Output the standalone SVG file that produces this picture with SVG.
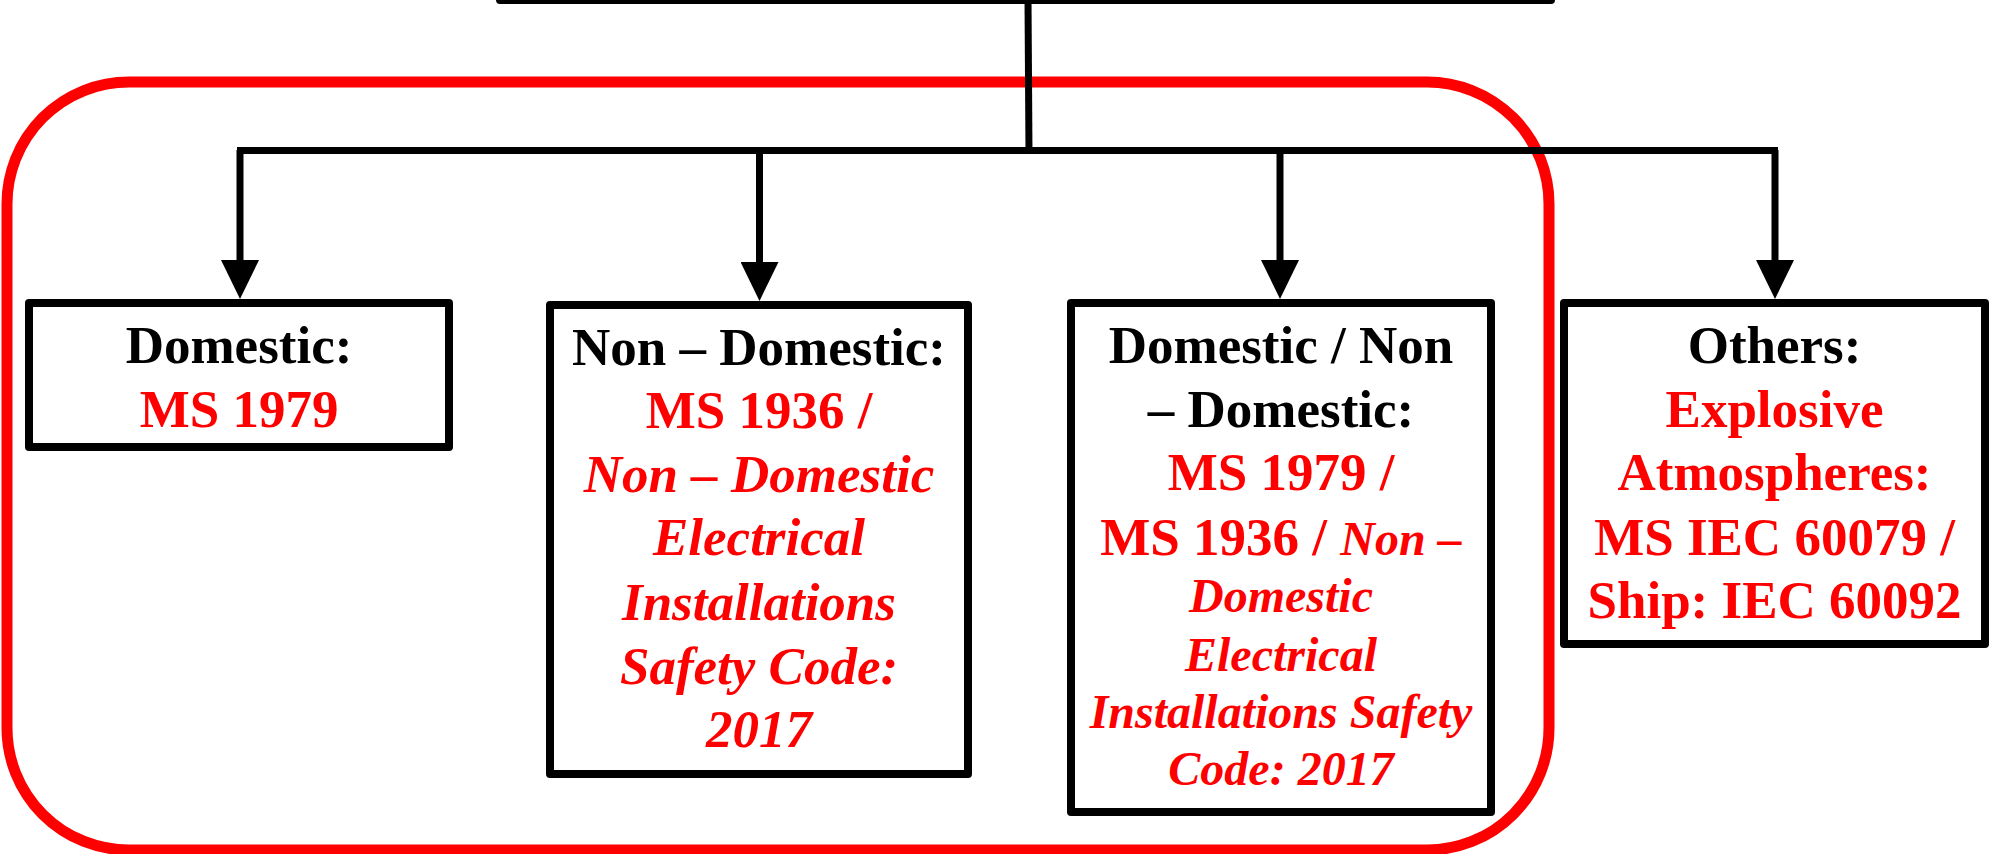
<svg xmlns="http://www.w3.org/2000/svg" width="1997" height="854" viewBox="0 0 1997 854">
<style>
.box{fill:#fff;stroke:#000;stroke-width:8;stroke-linejoin:round}
.ln{fill:none;stroke:#000;stroke-width:7}
.arr{fill:none;stroke:#000;stroke-width:7;marker-end:url(#ah)}
.t{font-family:"Liberation Serif","Times New Roman",serif;font-weight:bold;font-size:53px;text-anchor:middle}
.k{fill:#000}
.r{fill:#f00}
.i{font-style:italic}
.s{font-size:48px}
</style>
<defs>
<marker id="ah" viewBox="0 0 39 38" refX="0" refY="19" markerWidth="39" markerHeight="38" markerUnits="userSpaceOnUse" orient="auto">
<path d="M0,0 L39,19 L0,38 Z" fill="#000"/>
</marker>
</defs>
<rect id="container" x="7" y="82" width="1542" height="768" rx="122" ry="122" fill="none" stroke="#f00" stroke-width="11"/>
<g id="top">
<rect class="box" x="500" y="-100" width="1051" height="100"/>
</g>
<g id="connectors">
<line class="ln" x1="1028" y1="0" x2="1029" y2="154"/>
<line class="ln" x1="237" y1="150.5" x2="1778" y2="150.5"/>
<path class="arr" d="M240,150 V260"/>
<path class="arr" d="M759.5,150 V262"/>
<path class="arr" d="M1280,150 V260"/>
<path class="arr" d="M1775,150 V260"/>
</g>
<g id="domestic">
<rect class="box" x="29" y="303" width="420" height="144"/>
<text class="t k" x="239" y="363">Domestic:</text>
<text class="t r" x="239" y="427">MS 1979</text>
</g>
<g id="non-domestic">
<rect class="box" x="550" y="305" width="418" height="469"/>
<text class="t k" x="759" y="365">Non – Domestic:</text>
<text class="t r" x="759" y="428">MS 1936 /</text>
<text class="t r i" x="759" y="492">Non – Domestic</text>
<text class="t r i" x="759" y="555">Electrical</text>
<text class="t r i" x="759" y="620">Installations</text>
<text class="t r i" x="759" y="684">Safety Code:</text>
<text class="t r i" x="759" y="747">2017</text>
</g>
<g id="domestic-non-domestic">
<rect class="box" x="1071" y="303" width="420" height="509"/>
<text class="t k" x="1281" y="363">Domestic / Non</text>
<text class="t k" x="1281" y="427">– Domestic:</text>
<text class="t r" x="1281" y="490">MS 1979 /</text>
<text class="t r" x="1281" y="555">MS 1936 / <tspan class="i s">Non –</tspan></text>
<text class="t r i s" x="1281" y="612">Domestic</text>
<text class="t r i s" x="1281" y="671">Electrical</text>
<text class="t r i s" x="1281" y="728">Installations Safety</text>
<text class="t r i s" x="1281" y="785">Code: 2017</text>
</g>
<g id="others">
<rect class="box" x="1564" y="303" width="421" height="341"/>
<text class="t k" x="1774.5" y="363">Others:</text>
<text class="t r" x="1774.5" y="427">Explosive</text>
<text class="t r" x="1774.5" y="490">Atmospheres:</text>
<text class="t r" x="1774.5" y="555">MS IEC 60079 /</text>
<text class="t r" x="1774.5" y="618">Ship: IEC 60092</text>
</g>
</svg>
